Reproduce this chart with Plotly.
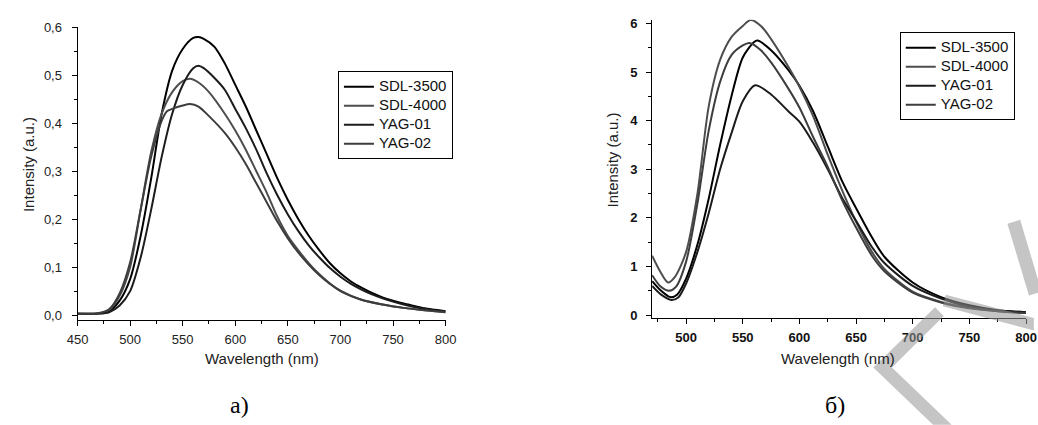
import plotly.graph_objects as go

# ---------------- data: panel a) ----------------
wl_a_sdl3500 = [450, 470, 480, 490, 500, 510, 520, 530, 540, 550, 560, 565, 570, 580, 590, 600, 610, 620,
                630, 640, 650, 660, 670, 680, 690, 700, 710, 720, 730, 740, 750, 760, 770, 780, 790, 800]
int_a_sdl3500 = [0.003, 0.003, 0.008, 0.03, 0.075, 0.165, 0.285, 0.42, 0.51, 0.555, 0.578, 0.58, 0.576, 0.56,
                 0.525, 0.48, 0.435, 0.385, 0.335, 0.285, 0.24, 0.2, 0.165, 0.135, 0.108, 0.087, 0.07, 0.057,
                 0.046, 0.037, 0.03, 0.024, 0.019, 0.014, 0.011, 0.008]

wl_a_sdl4000 = [450, 470, 480, 490, 500, 510, 520, 530, 540, 550, 557, 565, 575, 590, 600, 610, 620, 630,
                640, 650, 660, 670, 680, 690, 700, 720, 740, 760, 780, 800]
int_a_sdl4000 = [0.003, 0.004, 0.01, 0.04, 0.1, 0.22, 0.34, 0.42, 0.465, 0.488, 0.493, 0.485, 0.465, 0.42,
                 0.385, 0.345, 0.3, 0.255, 0.205, 0.165, 0.135, 0.108, 0.085, 0.066, 0.051, 0.032, 0.022,
                 0.015, 0.01, 0.006]

wl_a_yag01 = [450, 470, 480, 490, 500, 510, 520, 530, 540, 550, 560, 565, 570, 580, 590, 600, 610, 620, 630,
              640, 650, 660, 670, 680, 690, 700, 710, 720, 730, 740, 750, 760, 770, 780, 790, 800]
int_a_yag01 = [0.003, 0.003, 0.006, 0.02, 0.05, 0.12, 0.22, 0.33, 0.42, 0.48, 0.515, 0.52, 0.515, 0.495, 0.47,
               0.43, 0.39, 0.345, 0.295, 0.25, 0.21, 0.175, 0.145, 0.12, 0.098, 0.08, 0.065, 0.053, 0.043,
               0.035, 0.028, 0.022, 0.017, 0.013, 0.01, 0.008]

wl_a_yag02 = [450, 470, 480, 490, 500, 510, 520, 530, 535, 540, 550, 557, 565, 575, 590, 600, 610, 620, 630,
              640, 650, 660, 670, 680, 690, 700, 720, 740, 760, 780, 800]
int_a_yag02 = [0.003, 0.004, 0.012, 0.045, 0.11, 0.22, 0.33, 0.405, 0.425, 0.43, 0.437, 0.44, 0.435, 0.415,
               0.38, 0.35, 0.315, 0.275, 0.235, 0.195, 0.16, 0.13, 0.105, 0.083, 0.065, 0.05, 0.032, 0.022,
               0.015, 0.01, 0.006]

# ---------------- data: panel б) ----------------
wl_b_sdl3500 = [470, 478, 486, 492, 500, 510, 520, 530, 540, 550, 560, 563, 575, 590, 600, 612, 625, 638,
                650, 664, 675, 700, 725, 750, 775, 800]
int_b_sdl3500 = [0.7, 0.5, 0.37, 0.42, 0.75, 1.45, 2.4, 3.5, 4.5, 5.3, 5.62, 5.65, 5.45, 5.05, 4.72, 4.2,
                 3.47, 2.74, 2.2, 1.6, 1.2, 0.67, 0.37, 0.2, 0.1, 0.06]

wl_b_sdl4000 = [470, 477, 484, 490, 500, 510, 520, 530, 540, 550, 557, 566, 575, 590, 600, 612, 625, 638,
                650, 664, 675, 700, 725, 750, 775, 800]
int_b_sdl4000 = [1.22, 0.9, 0.67, 0.78, 1.3, 2.5, 4.3, 5.25, 5.72, 5.95, 6.07, 5.95, 5.68, 5.12, 4.7, 4.1,
                 3.3, 2.55, 1.92, 1.3, 0.95, 0.48, 0.27, 0.15, 0.08, 0.04]

wl_b_yag01 = [470, 478, 487, 493, 500, 510, 520, 530, 540, 550, 561, 575, 590, 600, 612, 625, 638, 650,
              664, 675, 700, 725, 750, 775, 800]
int_b_yag01 = [0.6, 0.42, 0.31, 0.36, 0.65, 1.3, 2.1, 3.0, 3.74, 4.4, 4.73, 4.54, 4.2, 3.98, 3.55, 3.0,
               2.4, 1.94, 1.4, 1.07, 0.6, 0.34, 0.17, 0.09, 0.05]

wl_b_yag02 = [470, 477, 485, 491, 500, 510, 520, 530, 540, 550, 556, 566, 575, 590, 600, 612, 625, 638,
              650, 664, 675, 700, 725, 750, 775, 800]
int_b_yag02 = [0.82, 0.6, 0.5, 0.58, 1.1, 2.3, 3.8, 4.8, 5.35, 5.55, 5.6, 5.45, 5.2, 4.67, 4.27, 3.67,
               3.05, 2.35, 1.8, 1.22, 0.9, 0.46, 0.26, 0.14, 0.08, 0.04]

series_names = ["SDL-3500", "SDL-4000", "YAG-01", "YAG-02"]
series_colors = ["#000000", "#4d4d4d", "#1c1c1c", "#3d3d3d"]

ticks_a_y = [0, 0.1, 0.2, 0.3, 0.4, 0.5, 0.6]
ticks_a_y_text = ["0,0", "0,1", "0,2", "0,3", "0,4", "0,5", "0,6"]
ticks_a_x = [450, 500, 550, 600, 650, 700, 750, 800]
ticks_b_x = [500, 550, 600, 650, 700, 750, 800]
ticks_b_y = [0, 1, 2, 3, 4, 5, 6]

W, H = 1038, 425


def px(x, y):
    """pixel position -> paper coordinates"""
    return x / W, 1 - y / H


fig = go.Figure()

panel_a = [(wl_a_sdl3500, int_a_sdl3500), (wl_a_sdl4000, int_a_sdl4000),
           (wl_a_yag01, int_a_yag01), (wl_a_yag02, int_a_yag02)]
panel_b = [(wl_b_sdl3500, int_b_sdl3500), (wl_b_sdl4000, int_b_sdl4000),
           (wl_b_yag01, int_b_yag01), (wl_b_yag02, int_b_yag02)]


def legend_label(name):
    # larger glyphs than the legend's base size, which keeps the rows compact
    return f'<span style="font-size:15px">{name}</span>'


for (xs, ys), name, col in zip(panel_a, series_names, series_colors):
    fig.add_trace(go.Scatter(x=xs, y=ys, name=legend_label(name), mode="lines",
                             line=dict(color=col, width=2, shape="spline", smoothing=0.8),
                             xaxis="x", yaxis="y", legend="legend"))

for (xs, ys), name, col in zip(panel_b, series_names, series_colors):
    fig.add_trace(go.Scatter(x=xs, y=ys, name=legend_label(name), mode="lines",
                             line=dict(color=col, width=2, shape="spline", smoothing=0.8),
                             xaxis="x2", yaxis="y2", legend="legend2"))

axis_common = dict(showline=True, linecolor="black", linewidth=1, showgrid=False, zeroline=False,
                   ticks="outside", ticklen=5, tickwidth=1, tickcolor="black", mirror=False)

font_reg = dict(family="Liberation Sans, Arial, sans-serif", size=13, color="#222222")
font_bold = dict(family="Liberation Sans, Arial, sans-serif", size=13, color="#111111", weight="bold")
legend_font = dict(family="Liberation Sans, Arial, sans-serif", size=12, color="#111111")

fig.update_layout(
    width=W, height=H,
    margin=dict(l=0, r=0, t=0, b=0),
    paper_bgcolor="white", plot_bgcolor="white",
    showlegend=True,
    xaxis=dict(axis_common, domain=[px(68, 0)[0], px(444, 0)[0]], range=[450, 800], anchor="y",
               tickvals=ticks_a_x, tickfont=font_reg, ticklabelstandoff=2,
               minor=dict(ticks="outside", ticklen=3, tickcolor="black", dtick=25, tick0=450)),
    yaxis=dict(axis_common, domain=[px(0, 322)[1], px(0, 21)[1]], range=[-0.0101, 0.6], anchor="x",
               tickvals=ticks_a_y, ticktext=ticks_a_y_text, tickfont=font_reg, ticklabelstandoff=7,
               minor=dict(ticks="outside", ticklen=3, tickcolor="black", dtick=0.05, tick0=0)),
    xaxis2=dict(axis_common, domain=[px(655, 0)[0], px(1037, 0)[0]], range=[470, 800], anchor="y2",
                tickvals=ticks_b_x, tickfont=font_bold, ticklabelstandoff=2,
                minor=dict(ticks="outside", ticklen=3, tickcolor="black", dtick=25, tick0=475)),
    yaxis2=dict(axis_common, domain=[px(0, 320)[1], px(0, 13)[1]], range=[-0.06, 6.08], anchor="x2",
                tickvals=ticks_b_y, tickfont=font_bold, ticklabelstandoff=6,
                minor=dict(ticks="outside", ticklen=3, tickcolor="black", dtick=0.5, tick0=0)),
    legend=dict(x=px(334, 0)[0], y=px(0, 66)[1], xanchor="left", yanchor="top",
                bordercolor="black", borderwidth=1, bgcolor="white", font=legend_font,
                tracegroupgap=0, itemwidth=30),
    legend2=dict(x=px(908, 0)[0], y=px(0, 26)[1], xanchor="left", yanchor="top",
                 bordercolor="black", borderwidth=1, bgcolor="white", font=legend_font,
                 tracegroupgap=0, itemwidth=30),
)

title_font = dict(family="Liberation Sans, Arial, sans-serif", size=15, color="#222222")
label_font = dict(family="Liberation Serif, Times New Roman, serif", size=24, color="black")

annotations = [
    (px(18, 162), "Intensity (a.u.)", -90, title_font),
    (px(256, 362), "Wavelength (nm)", 0, title_font),
    (px(615, 157), "Intensity (a.u.)", -90, title_font),
    (px(845, 362), "Wavelength (nm)", 0, title_font),
    (px(233, 410), "а)", 0, label_font),
    (px(842, 410), "б)", 0, label_font),
]
for (ax, ay), text, angle, fnt in annotations:
    fig.add_annotation(x=ax, y=ay, xref="paper", yref="paper", text=text, textangle=angle,
                       showarrow=False, font=fnt, xanchor="center", yanchor="middle")

# light grey watermark strokes in the lower-right corner
def poly(points):
    pts = [px(x, y) for x, y in points]
    return "M " + " L ".join(f"{a:.5f},{b:.5f}" for a, b in pts) + " Z"

marks = [
    [(1018, 223), (1031, 219), (1053, 293), (1040, 297)],
    [(955, 296), (1045, 320), (1045, 333), (952, 308)],
    [(881, 371), (944, 309), (953, 318), (900, 371), (961, 430), (942, 430)],
]
for m in marks:
    fig.add_shape(type="path", path=poly(m), xref="paper", yref="paper",
                  fillcolor="rgba(150,150,150,0.55)", line=dict(width=0), layer="above")

fig.write_html("out.html")
